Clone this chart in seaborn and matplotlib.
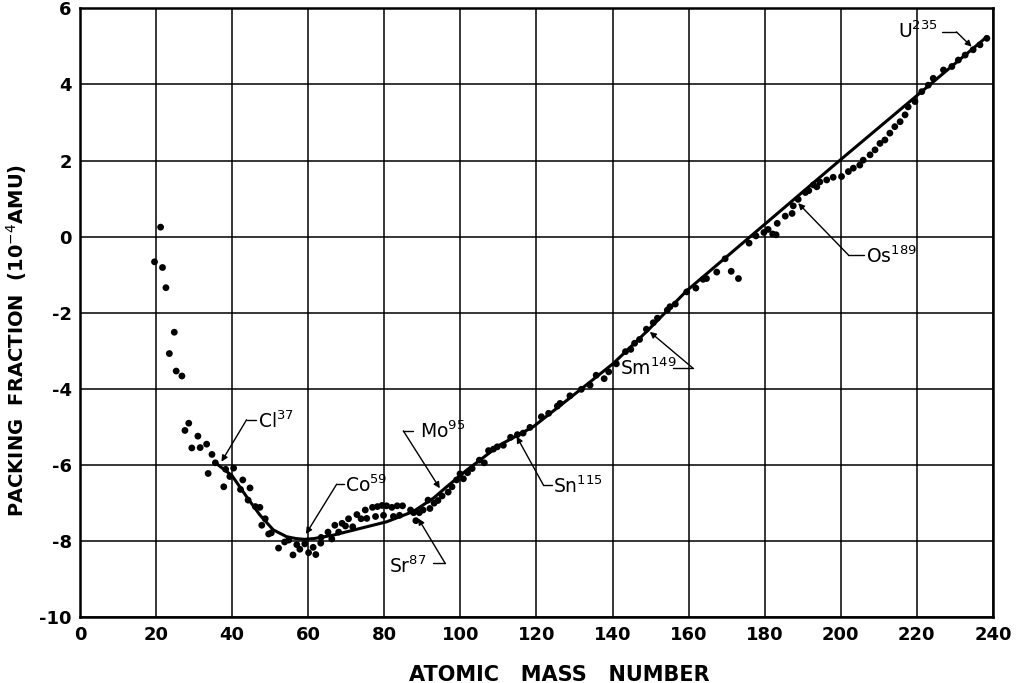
import matplotlib
matplotlib.use("Agg")
import matplotlib.pyplot as plt
import seaborn as sns
import pandas as pd

# measured packing fractions (dots)
mass = [19.6, 21.2, 21.7, 22.6, 24.8, 23.5, 25.3, 26.8, 28.6, 27.6, 31.0, 29.4, 31.6, 33.3,
        34.7, 35.6, 33.7, 38.3, 40.4, 39.4, 37.8, 42.8, 42.2, 44.7, 44.2, 46.1, 47.3, 48.7,
        47.8, 50.3, 49.6, 52.2, 53.8, 54.9, 56.0, 57.0, 57.8, 59.1, 60.1, 61.3, 62.0, 63.3,
        63.4, 65.2, 66.2, 67.0, 68.0, 68.9, 69.8, 70.6, 71.7, 72.8, 73.9, 75.0, 75.4, 76.9,
        77.7, 78.2, 79.4, 79.8, 80.6, 82.0, 82.4, 83.4, 84.0, 84.8, 86.9, 87.7, 88.3, 89.2,
        90.2, 91.5, 92.0, 93.1, 94.1, 95.2, 96.8, 97.8, 99.0, 99.9, 100.8, 101.9, 103.1,
        105.0, 106.3, 107.4, 108.7, 109.7, 111.3, 113.2, 115.0, 116.5, 118.3, 121.3, 123.2,
        125.5, 126.2, 128.8, 131.8, 134.1, 135.7, 137.8, 139.0, 141.0, 143.4, 144.8, 145.8,
        147.1, 148.9, 150.7, 151.8, 154.4, 155.1, 156.5, 159.5, 161.9, 163.8, 164.7, 167.4,
        169.6, 171.2, 173.1, 175.9, 177.7, 179.8, 180.9, 182.1, 183.0, 183.3, 185.4, 187.2,
        187.5, 188.8, 190.7, 191.6, 192.8, 193.7, 194.5, 196.3, 198.0, 200.2, 202.0, 203.3,
        205.0, 205.9, 207.7, 209.0, 210.3, 211.6, 212.9, 214.2, 215.6, 216.9, 217.7, 219.5,
        221.3, 223.0, 224.3, 227.0, 229.2, 230.9, 232.7, 234.8, 236.6, 238.4]
packing = [-0.66, 0.25, -0.81, -1.34, -2.51, -3.07, -3.53, -3.66, -4.90, -5.09, -5.24, -5.55,
           -5.54, -5.45, -5.72, -5.94, -6.22, -6.11, -6.08, -6.30, -6.57, -6.39, -6.64, -6.60,
           -6.92, -7.09, -7.11, -7.41, -7.58, -7.78, -7.81, -8.18, -8.02, -7.97, -8.36, -8.09,
           -8.21, -8.07, -8.30, -8.16, -8.35, -8.05, -7.90, -7.76, -7.94, -7.58, -7.76, -7.53,
           -7.60, -7.41, -7.62, -7.30, -7.41, -7.18, -7.40, -7.11, -7.35, -7.09, -7.06, -7.32,
           -7.07, -7.11, -7.35, -7.07, -7.32, -7.07, -7.18, -7.25, -7.46, -7.25, -7.18, -6.92,
           -7.14, -7.00, -6.93, -6.81, -6.71, -6.57, -6.39, -6.23, -6.36, -6.20, -6.09, -5.87,
           -5.94, -5.62, -5.58, -5.52, -5.48, -5.27, -5.20, -5.16, -5.01, -4.73, -4.64, -4.45,
           -4.38, -4.18, -4.01, -3.90, -3.64, -3.73, -3.55, -3.34, -3.02, -2.96, -2.80, -2.70,
           -2.43, -2.26, -2.14, -1.93, -1.84, -1.77, -1.45, -1.35, -1.12, -1.10, -0.93, -0.58,
           -0.91, -1.10, -0.17, 0.02, 0.11, 0.19, 0.07, 0.05, 0.35, 0.54, 0.61, 0.81, 0.98,
           1.16, 1.21, 1.36, 1.31, 1.44, 1.49, 1.56, 1.58, 1.71, 1.80, 1.88, 2.01, 2.15, 2.28,
           2.45, 2.54, 2.72, 2.89, 3.02, 3.20, 3.41, 3.55, 3.81, 3.98, 4.16, 4.38, 4.47, 4.64,
           4.77, 4.91, 5.04, 5.21]

# smooth curve drawn through the data
curve_mass = [35.6, 40.0, 43.8, 47.3, 50.8, 54.3, 56.8, 59.0, 61.5, 66.6, 75.4, 80.6, 87.6,
              92.9, 96.4, 101.7, 110.4, 119.2, 131.4, 140.2, 149.0, 159.5, 199.8, 238.4]
curve_packing = [-5.94, -6.28, -6.83, -7.31, -7.70, -7.88, -7.93, -7.95, -7.93, -7.84, -7.62,
                 -7.49, -7.22, -6.87, -6.57, -6.13, -5.47, -4.99, -4.03, -3.33, -2.49, -1.42,
                 2.01, 5.25]

# isotope labels: text anchor, alignment, leader kink, stub end, arrow tip
labels = ["Cl$^{37}$", "Co$^{59}$", "Mo$^{95}$", "Sr$^{87}$", "Sn$^{115}$", "Sm$^{149}$",
          "Os$^{189}$", "U$^{235}$"]
label_x = [46.9, 69.8, 89.4, 91.1, 124.3, 156.9, 206.6, 215.0]
label_y = [-5.02, -6.70, -5.30, -8.84, -6.74, -3.63, -0.70, 5.21]
label_ha = ["left", "left", "left", "right", "left", "right", "left", "left"]
kink_x = [43.8, 67.5, 85.0, 96.0, 121.8, 161.2, 202.0, 230.4]
kink_y = [-4.81, -6.50, -5.10, -8.58, -6.52, -3.46, -0.48, 5.38]
stub_x = [46.2, 69.3, 87.6, 92.9, 124.0, 156.0, 206.0, 226.6]
tip_x = [37.2, 59.4, 94.6, 88.9, 114.8, 149.8, 188.8, 234.4]
tip_y = [-5.91, -7.81, -6.61, -7.40, -5.25, -2.50, 0.88, 4.99]

sns.set_theme(style="white")
plt.rcParams['font.family'] = ['DejaVu Sans']
plt.rcParams['text.color'] = 'black'
plt.rcParams['axes.labelcolor'] = 'black'
plt.rcParams['xtick.color'] = 'black'
plt.rcParams['ytick.color'] = 'black'
plt.rcParams['axes.unicode_minus'] = False

fig = plt.figure(figsize=(10.16, 6.83), dpi=100)
ax = fig.add_axes([0.0787, 0.0961, 0.8986, 0.8918])

pts = pd.DataFrame({"mass": mass, "pf": packing})
crv = pd.DataFrame({"mass": curve_mass, "pf": curve_packing})
sns.lineplot(data=crv, x="mass", y="pf", color="black", lw=2.2, sort=False,
             estimator=None, ax=ax, zorder=3)
sns.scatterplot(data=pts, x="mass", y="pf", color="black", s=24, edgecolor="none",
                ax=ax, zorder=4)

ax.set_xlim(0, 240)
ax.set_ylim(-10, 6)
ax.set_xticks(range(0, 241, 20))
ax.set_yticks(range(-10, 7, 2))
ax.grid(True, color="black", lw=1.1)
ax.set_axisbelow(True)
for s in ax.spines.values():
    s.set_color("black")
    s.set_linewidth(1.8)
ax.tick_params(length=0, labelsize=13, pad=6)
for t in ax.get_xticklabels() + ax.get_yticklabels():
    t.set_fontweight("bold")

for i in range(len(labels)):
    ax.text(label_x[i], label_y[i], labels[i], ha=label_ha[i], va="baseline",
            fontsize=13.5, color="black")
    ax.plot([kink_x[i], stub_x[i]], [kink_y[i], kink_y[i]], color="black", lw=1)
    ax.annotate("", xy=(tip_x[i], tip_y[i]), xytext=(kink_x[i], kink_y[i]),
                arrowprops=dict(arrowstyle="-|>", color="black", lw=1,
                                mutation_scale=9, shrinkA=0, shrinkB=0))

ax.set_xlabel("ATOMIC   MASS   NUMBER", fontsize=15, fontweight="bold")
ax.set_ylabel("PACKING  FRACTION  (10$^{-4}$AMU)", fontsize=14, fontweight="bold")
ax.xaxis.set_label_coords(0.525, -0.078)
ax.yaxis.set_label_coords(-0.056, 0.455)

fig.savefig("out.png", dpi=100)
